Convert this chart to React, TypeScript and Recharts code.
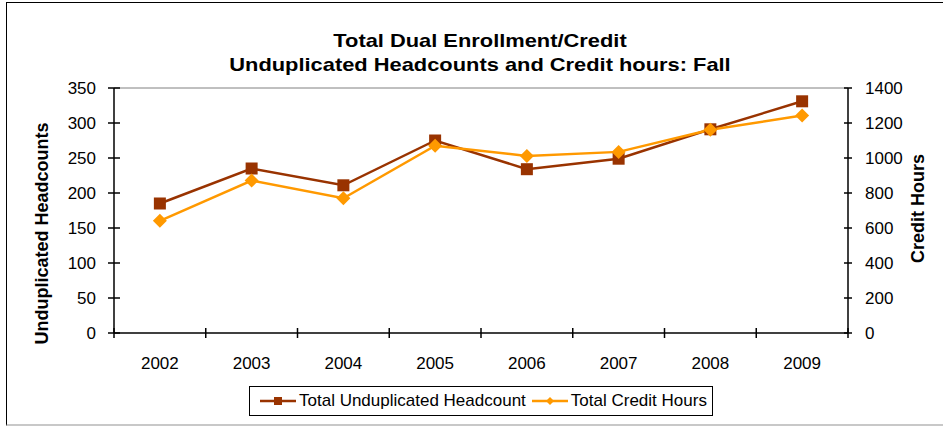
import { ComposedChart, Line, XAxis, YAxis, Legend, ReferenceLine } from "recharts";

const years = ["2002", "2003", "2004", "2005", "2006", "2007", "2008", "2009"];
const headcounts = [185, 235, 211, 275, 234, 249, 291, 331];
const creditHours = [641, 871, 770, 1070, 1012, 1035, 1161, 1243];
const leftTicks = [0, 50, 100, 150, 200, 250, 300, 350];
const rightTicks = [0, 200, 400, 600, 800, 1000, 1200, 1400];

const BROWN = "#993300";
const ORANGE = "#FF9900";
const FONT = "'Liberation Sans', Arial, sans-serif";

const data = years.map((year, i) => ({
  year,
  headcount: headcounts[i],
  credit: creditHours[i],
}));

function YearTick(props: any) {
  const { x, y, payload, index, visibleTicksCount } = props;
  const half = payload.offset ?? 0;
  return (
    <g>
      <line x1={x - half} x2={x - half} y1={y - 5} y2={y + 5} stroke="#000" strokeWidth={1.5} />
      {index === visibleTicksCount - 1 && (
        <line x1={x + half} x2={x + half} y1={y - 5} y2={y + 5} stroke="#000" strokeWidth={1.5} />
      )}
      <text x={x} y={y} dy={36} textAnchor="middle" fontSize={17} fill="#000" fontFamily={FONT}>
        {payload.value}
      </text>
    </g>
  );
}

function LeftTick(props: any) {
  const { x, y, payload } = props;
  return (
    <g>
      <line x1={x - 6} x2={x + 6} y1={y} y2={y} stroke="#000" strokeWidth={1.5} />
      <text x={x - 18} y={y} dy={6} textAnchor="end" fontSize={17} fill="#000" fontFamily={FONT}>
        {payload.value}
      </text>
    </g>
  );
}

function RightTick(props: any) {
  const { x, y, payload } = props;
  return (
    <g>
      <line x1={x - 4} x2={x + 4} y1={y} y2={y} stroke="#000" strokeWidth={1.5} />
      <text x={x + 17} y={y} dy={6} textAnchor="start" fontSize={17} fill="#000" fontFamily={FONT}>
        {payload.value}
      </text>
    </g>
  );
}

function Square(props: any) {
  const { cx, cy, index } = props;
  return <rect key={"s" + index} x={cx - 6} y={cy - 6} width={12} height={12} fill={BROWN} />;
}

function Diamond(props: any) {
  const { cx, cy, index } = props;
  return (
    <polygon
      key={"d" + index}
      points={`${cx},${cy - 7} ${cx + 7},${cy} ${cx},${cy + 7} ${cx - 7},${cy}`}
      fill={ORANGE}
    />
  );
}

function LegendBox() {
  const item = (color: string, label: string, marker: "square" | "diamond") => (
    <div style={{ display: "flex", alignItems: "center", marginRight: 5 }}>
      <svg width={38} height={12} style={{ marginRight: 2 }}>
        <line x1={1} x2={37} y1={6} y2={6} stroke={color} strokeWidth={2.5} />
        {marker === "square" ? (
          <rect x={15} y={2} width={8} height={8} fill={color} />
        ) : (
          <polygon points="19,2 23,6 19,10 15,6" fill={color} />
        )}
      </svg>
      <span>{label}</span>
    </div>
  );
  return (
    <div style={{ position: "relative", width: 943, height: 43 }}>
      <div
        style={{
          position: "absolute",
          left: 249,
          top: 3,
          width: 464,
          height: 30,
          border: "1px solid #000",
          display: "flex",
          alignItems: "center",
          paddingLeft: 9,
          boxSizing: "border-box",
          fontFamily: FONT,
          fontSize: 17,
          color: "#000",
          background: "#fff",
          whiteSpace: "nowrap",
        }}
      >
        {item(BROWN, "Total Unduplicated Headcount", "square")}
        {item(ORANGE, "Total Credit Hours", "diamond")}
      </div>
    </div>
  );
}

function LeftTitle(props: any) {
  const { viewBox } = props;
  const cx = viewBox.x + 42;
  const cy = viewBox.y + viewBox.height / 2 + 23;
  return (
    <text
      x={cx}
      y={cy}
      transform={`rotate(-90 ${cx} ${cy})`}
      textAnchor="middle"
      dominantBaseline="central"
      fontSize={18}
      fontWeight="bold"
      fontFamily={FONT}
      fill="#000"
    >
      Unduplicated Headcounts
    </text>
  );
}

function RightTitle(props: any) {
  const { viewBox } = props;
  const cx = viewBox.x + 70;
  const cy = viewBox.y + viewBox.height / 2 - 2;
  return (
    <text
      x={cx}
      y={cy}
      transform={`rotate(-90 ${cx} ${cy})`}
      textAnchor="middle"
      dominantBaseline="central"
      fontSize={18}
      fontWeight="bold"
      fontFamily={FONT}
      fill="#000"
    >
      Credit Hours
    </text>
  );
}

export default function App() {
  return (
    <div
      style={{
        position: "absolute",
        left: 0,
        top: 0,
        width: 943,
        height: 426,
        overflow: "hidden",
        background: "#fff",
      }}
    >
      <div
        style={{
          position: "absolute",
          left: 6,
          top: 2,
          width: 940,
          height: 421,
          borderTop: "1.5px solid #000",
          borderLeft: "1.5px solid #000",
          borderBottom: "2px solid #c8c8c8",
        }}
      />
      <div
        style={{
          position: "absolute",
          left: 0,
          top: 29,
          width: 960,
          textAlign: "center",
          fontFamily: FONT,
          fontWeight: "bold",
          fontSize: 19,
          lineHeight: "24px",
          color: "#000",
          transform: "scaleX(1.15)",
          transformOrigin: "480px 0",
        }}
      >
        Total Dual Enrollment/Credit
        <br />
        Unduplicated Headcounts and Credit hours: Fall
      </div>
      <div style={{ position: "absolute", left: 0, top: 0 }}>
        <ComposedChart width={943} height={426} data={data} margin={{ top: 88, right: 0, bottom: 0, left: 0 }}>
          <XAxis
            dataKey="year"
            scale="band"
            tick={<YearTick />}
            tickLine={false}
            tickSize={0}
            tickMargin={0}
            height={50}
            interval={0}
            axisLine={{ stroke: "#000", strokeWidth: 1.5 }}
          />
          <YAxis
            yAxisId="left"
            orientation="left"
            width={114}
            domain={[0, 350]}
            ticks={leftTicks}
            tick={<LeftTick />}
            tickLine={false}
            tickSize={0}
            tickMargin={0}
            axisLine={{ stroke: "#000", strokeWidth: 1.5 }}
            label={<LeftTitle />}
          />
          <YAxis
            yAxisId="right"
            orientation="right"
            width={95}
            domain={[0, 1400]}
            ticks={rightTicks}
            tick={<RightTick />}
            tickLine={false}
            tickSize={0}
            tickMargin={0}
            axisLine={{ stroke: "#000", strokeWidth: 1.5 }}
            label={<RightTitle />}
          />
          <ReferenceLine yAxisId="left" y={350} stroke="#808080" strokeWidth={1} />
          <Legend
            verticalAlign="bottom"
            height={43}
            content={() => <LegendBox />}
            wrapperStyle={{ left: 0, bottom: 0, width: 943, height: 43 }}
          />
          <Line
            yAxisId="left"
            dataKey="headcount"
            stroke={BROWN}
            strokeWidth={2.5}
            dot={<Square />}
            activeDot={false}
            isAnimationActive={false}
          />
          <Line
            yAxisId="right"
            dataKey="credit"
            stroke={ORANGE}
            strokeWidth={2.5}
            dot={<Diamond />}
            activeDot={false}
            isAnimationActive={false}
          />
        </ComposedChart>
      </div>
    </div>
  );
}
